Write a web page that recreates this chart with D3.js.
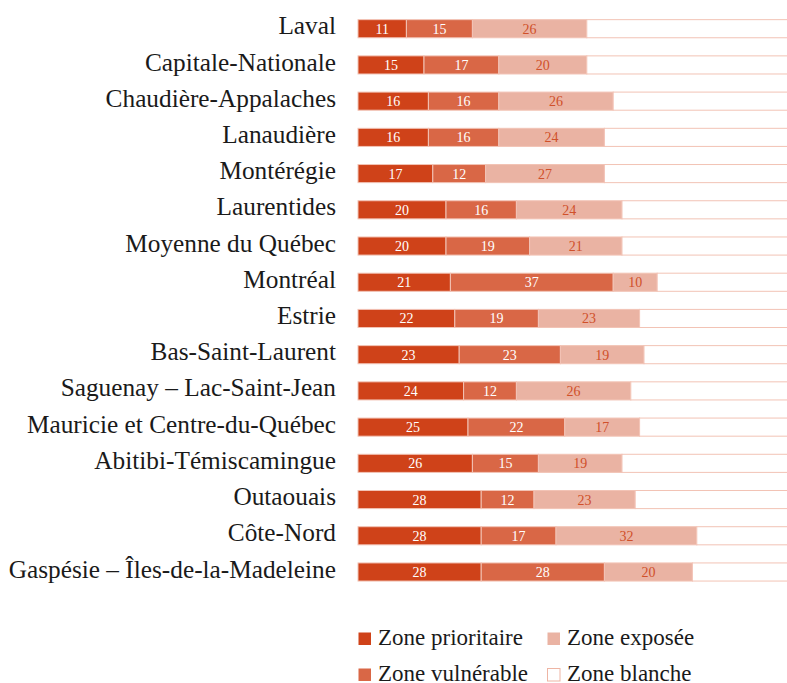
<!DOCTYPE html>
<html>
<head>
<meta charset="utf-8">
<script src="https://cdn.jsdelivr.net/npm/d3@7"></script>
<style>
body { margin: 0; background: #fff; }
text { font-family: "Liberation Serif", "Times New Roman", serif; }
</style>
</head>
<body>
<div id="chart"></div>
<script>
//Data - share of each region by zone (%)
var regions = ["Laval", "Capitale-Nationale", "Chaudière-Appalaches", "Lanaudière", "Montérégie",
	"Laurentides", "Moyenne du Québec", "Montréal", "Estrie", "Bas-Saint-Laurent",
	"Saguenay – Lac-Saint-Jean", "Mauricie et Centre-du-Québec", "Abitibi-Témiscamingue",
	"Outaouais", "Côte-Nord", "Gaspésie – Îles-de-la-Madeleine"];
var prioritaire = [11, 15, 16, 16, 17, 20, 20, 21, 22, 23, 24, 25, 26, 28, 28, 28];
var vulnerable  = [15, 17, 16, 16, 12, 16, 19, 37, 19, 23, 12, 22, 15, 12, 17, 28];
var exposee     = [26, 20, 26, 24, 27, 24, 21, 10, 23, 19, 26, 17, 19, 23, 32, 20];
var blanche     = [48, 48, 42, 44, 44, 40, 40, 32, 36, 35, 38, 36, 40, 37, 23, 24];

var keys = ["prioritaire", "vulnerable", "exposee", "blanche"];
var legendNames = ["Zone prioritaire", "Zone vulnérable", "Zone exposée", "Zone blanche"];

var w = 787, h = 683;

//Colours
var color = d3.scaleOrdinal().domain(keys).range(["#cf4219", "#d96746", "#eab3a3", "#ffffff"]);
var labelColor = d3.scaleOrdinal().domain(keys).range(["#ffffff", "#ffffff", "#d0502a", "none"]);
var strokeColor = "#f2c3b5";

//Rows for the stack
var rows = regions.map(function(r, i) {
	return {region: r, prioritaire: prioritaire[i], vulnerable: vulnerable[i],
		exposee: exposee[i], blanche: blanche[i]};
});
var stacked = d3.stack().keys(keys)(rows);

var svg = d3.select("#chart").append("svg")
	.attr("width", w)
	.attr("height", h);

//Scales
var x = d3.scaleLinear().domain([0, 100]).range([358, 798]);
var y = d3.scaleBand().domain(regions)
	.range([10.6, 590.1])
	.paddingInner(0.5)
	.paddingOuter(0.25);

//Region labels
var yAxis = svg.append("g")
	.attr("transform", "translate(" + x(0) + ",0)")
	.call(d3.axisLeft(y).tickSize(0).tickPadding(22));
yAxis.select(".domain").remove();
yAxis.selectAll("text")
	.attr("dy", "0.22em")
	.style("font-family", "'Liberation Serif', serif")
	.style("font-size", "25.3px")
	.style("fill", "#1a1a1a");

//Bars
var layer = svg.append("g").selectAll("g.layer")
	.data(stacked).enter().append("g")
	.attr("class", "layer")
	.attr("fill", function(d) { return color(d.key); });

layer.selectAll("rect")
	.data(function(d) { return d; }).enter()
	.append("rect")
	.attr("x", function(d) { return x(d[0]); })
	.attr("y", function(d) { return y(d.data.region); })
	.attr("width", function(d) { return x(d[1]) - x(d[0]); })
	.attr("height", y.bandwidth())
	.attr("stroke", strokeColor)
	.attr("stroke-width", 1);

//Value labels (not for the white zone)
layer.filter(function(d) { return d.key != "blanche"; })
	.selectAll("text")
	.data(function(d) { return d.map(function(v) { v.key = d.key; return v; }); }).enter()
	.append("text")
	.attr("x", function(d) { return (x(d[0]) + x(d[1])) / 2; })
	.attr("y", function(d) { return y(d.data.region) + y.bandwidth() / 2; })
	.attr("dy", "0.36em")
	.attr("text-anchor", "middle")
	.style("font-size", "14px")
	.style("fill", function(d) { return labelColor(d.key); })
	.text(function(d) { return d[1] - d[0]; });

//Legend - two columns
var legendCol = d3.scaleOrdinal().domain(keys).range([358, 358, 547, 547]);
var legendRow = d3.scaleOrdinal().domain(keys).range([632, 668, 632, 668]);

var legend = svg.append("g").selectAll("g.legend")
	.data(keys).enter().append("g")
	.attr("class", "legend")
	.attr("transform", function(d) { return "translate(" + legendCol(d) + "," + legendRow(d) + ")"; });

legend.append("rect")
	.attr("x", 0.5)
	.attr("y", 0.5)
	.attr("width", 12.5)
	.attr("height", 12.5)
	.attr("fill", function(d) { return color(d); })
	.attr("stroke", function(d) { return d == "blanche" ? "#eeb5a4" : "none"; });

legend.append("text")
	.attr("x", 20)
	.attr("y", 12.5)
	.style("font-size", "23px")
	.style("fill", "#1a1a1a")
	.text(function(d, i) { return legendNames[i]; });
</script>
</body>
</html>
